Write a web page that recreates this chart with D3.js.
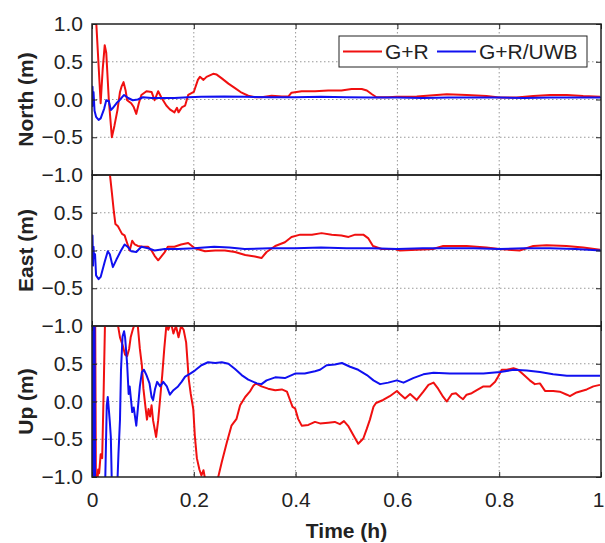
<!DOCTYPE html>
<html>
<head>
<meta charset="utf-8">
<script src="https://cdn.jsdelivr.net/npm/d3@7"></script>
<style>
  body { margin: 0; background: #fff; }
  text { font-family: "Liberation Sans", Arial, sans-serif; fill: #222; }
</style>
</head>
<body>
<div id="chart"></div>
<script>
// panel names, axis ticks and legend
let panelNames = ["North (m)", "East (m)", "Up (m)"];
let seriesNames = ["G+R", "G+R/UWB"];
let xTicks = [0, 0.2, 0.4, 0.6, 0.8, 1];
let yTicks = [-1, -0.5, 0, 0.5, 1];

// [time (h), error (m)]
let northGR = [[0.006,1.4],[0.0085,1.0],[0.017,-0.05],[0.021,0.4],[0.025,0.72],[0.028,0.62],[0.033,0.0],[0.039,-0.5],[0.044,-0.35],[0.05,-0.14],[0.055,0.1],[0.058,0.17],[0.062,0.23],[0.066,0.12],[0.069,-0.01],[0.077,-0.05],[0.082,-0.1],[0.087,-0.19],[0.092,-0.05],[0.097,0.06],[0.107,0.11],[0.117,0.1],[0.123,-0.01],[0.13,0.11],[0.136,0.03],[0.146,-0.08],[0.153,-0.13],[0.162,-0.17],[0.167,-0.11],[0.17,-0.17],[0.177,-0.1],[0.183,-0.08],[0.189,0.06],[0.2,0.1],[0.208,0.26],[0.212,0.3],[0.219,0.26],[0.225,0.3],[0.238,0.34],[0.245,0.33],[0.255,0.28],[0.268,0.21],[0.281,0.15],[0.294,0.09],[0.307,0.05],[0.32,0.03],[0.333,0.03],[0.353,0.05],[0.373,0.04],[0.386,0.04],[0.392,0.09],[0.412,0.11],[0.438,0.11],[0.464,0.12],[0.49,0.12],[0.51,0.14],[0.53,0.14],[0.54,0.12],[0.55,0.07],[0.559,0.03],[0.582,0.03],[0.599,0.035],[0.638,0.04],[0.697,0.07],[0.736,0.06],[0.775,0.045],[0.8,0.025],[0.834,0.025],[0.867,0.045],[0.9,0.06],[0.933,0.06],[0.965,0.045],[0.998,0.035]];
let northUWB = [[0,-0.1],[0.001,0.17],[0.002,-0.08],[0.003,0.1],[0.005,-0.15],[0.008,-0.23],[0.013,-0.27],[0.017,-0.25],[0.024,-0.12],[0.028,-0.01],[0.033,-0.02],[0.037,-0.14],[0.04,-0.12],[0.048,-0.05],[0.054,-0.01],[0.063,0.06],[0.071,0.02],[0.08,-0.01],[0.09,0.0],[0.1,0.03],[0.117,0.02],[0.136,0.02],[0.162,0.02],[0.189,0.03],[0.215,0.035],[0.26,0.04],[0.3,0.035],[0.35,0.03],[0.4,0.03],[0.45,0.035],[0.5,0.03],[0.55,0.025],[0.6,0.025],[0.65,0.02],[0.7,0.025],[0.75,0.025],[0.8,0.025],[0.85,0.02],[0.9,0.025],[0.95,0.025],[1.0,0.025]];
let eastGR = [[0.033,1.3],[0.035,1.02],[0.039,0.77],[0.043,0.51],[0.046,0.35],[0.051,0.32],[0.055,0.27],[0.059,0.22],[0.064,0.2],[0.069,0.1],[0.074,0.0],[0.079,0.13],[0.084,0.08],[0.09,0.06],[0.1,0.05],[0.11,0.05],[0.117,0.0],[0.123,-0.07],[0.13,-0.13],[0.136,-0.08],[0.143,-0.02],[0.149,0.05],[0.162,0.05],[0.175,0.08],[0.189,0.1],[0.202,0.03],[0.222,-0.01],[0.242,0.0],[0.261,0.0],[0.281,-0.02],[0.301,-0.06],[0.32,-0.08],[0.333,-0.1],[0.343,-0.02],[0.36,0.06],[0.379,0.11],[0.392,0.18],[0.409,0.21],[0.432,0.21],[0.451,0.23],[0.471,0.21],[0.49,0.2],[0.504,0.18],[0.517,0.21],[0.533,0.21],[0.543,0.16],[0.552,0.06],[0.569,0.02],[0.595,0.02],[0.605,0.0],[0.638,0.01],[0.67,0.02],[0.69,0.06],[0.736,0.06],[0.775,0.04],[0.8,0.02],[0.84,0.0],[0.867,0.06],[0.893,0.07],[0.932,0.06],[0.965,0.04],[0.998,0.01]];
let eastUWB = [[0,-0.15],[0.001,0.2],[0.002,-0.2],[0.003,0.05],[0.004,-0.1],[0.006,-0.05],[0.008,-0.33],[0.013,-0.38],[0.017,-0.35],[0.025,-0.15],[0.031,-0.01],[0.035,-0.05],[0.041,-0.22],[0.048,-0.12],[0.057,0.0],[0.064,0.08],[0.07,0.05],[0.077,-0.01],[0.087,-0.02],[0.097,0.05],[0.11,0.03],[0.123,0.0],[0.143,0.02],[0.169,0.02],[0.2,0.03],[0.24,0.05],[0.27,0.04],[0.3,0.02],[0.35,0.03],[0.4,0.03],[0.45,0.04],[0.5,0.03],[0.55,0.03],[0.6,0.02],[0.65,0.03],[0.7,0.03],[0.75,0.03],[0.8,0.02],[0.85,0.03],[0.9,0.03],[0.95,0.02],[1.0,0.0]];
let upGR = [[0.006,1.5],[0.007,0.0],[0.008,-1.5],[0.012,-0.9],[0.014,-0.95],[0.017,-0.7],[0.02,-0.75],[0.023,0.17],[0.026,1.2],[0.05,1.05],[0.055,0.85],[0.06,0.75],[0.065,0.62],[0.069,0.6],[0.073,0.7],[0.076,0.85],[0.08,0.95],[0.085,1.05],[0.09,1.0],[0.094,0.7],[0.098,0.48],[0.101,0.17],[0.105,-0.07],[0.108,-0.24],[0.111,-0.1],[0.114,-0.2],[0.117,-0.05],[0.12,-0.25],[0.126,-0.47],[0.13,-0.25],[0.134,0.05],[0.138,0.35],[0.142,0.7],[0.146,1.0],[0.15,0.95],[0.155,1.05],[0.16,0.9],[0.165,1.0],[0.17,0.85],[0.175,1.0],[0.18,0.95],[0.185,0.78],[0.19,0.3],[0.194,0.1],[0.199,-0.1],[0.202,-0.45],[0.206,-0.75],[0.211,-0.9],[0.215,-0.98],[0.219,-0.91],[0.222,-1.02],[0.235,-1.2],[0.248,-1.0],[0.255,-0.8],[0.265,-0.54],[0.274,-0.32],[0.284,-0.23],[0.291,-0.05],[0.301,0.06],[0.31,0.13],[0.317,0.21],[0.322,0.24],[0.333,0.2],[0.346,0.17],[0.36,0.15],[0.373,0.16],[0.383,0.13],[0.389,0.02],[0.394,-0.07],[0.399,-0.09],[0.405,-0.23],[0.412,-0.32],[0.425,-0.31],[0.438,-0.27],[0.448,-0.29],[0.464,-0.28],[0.477,-0.27],[0.487,-0.3],[0.495,-0.26],[0.504,-0.33],[0.513,-0.44],[0.523,-0.56],[0.533,-0.49],[0.54,-0.36],[0.546,-0.24],[0.553,-0.07],[0.558,-0.02],[0.572,0.02],[0.585,0.07],[0.599,0.14],[0.605,0.1],[0.615,0.04],[0.625,0.1],[0.638,0.02],[0.651,0.13],[0.661,0.22],[0.671,0.25],[0.68,0.17],[0.69,0.06],[0.697,0.0],[0.707,0.1],[0.715,0.11],[0.723,0.06],[0.729,0.03],[0.736,0.09],[0.746,0.11],[0.756,0.15],[0.769,0.2],[0.782,0.2],[0.792,0.26],[0.798,0.33],[0.805,0.42],[0.815,0.42],[0.828,0.44],[0.837,0.42],[0.847,0.36],[0.86,0.28],[0.87,0.23],[0.88,0.24],[0.89,0.14],[0.906,0.14],[0.919,0.13],[0.933,0.09],[0.939,0.07],[0.952,0.12],[0.972,0.16],[0.985,0.2],[0.998,0.22]];
let upUWB = [[0,-1.3],[0.0005,1.3],[0.001,-1.3],[0.0015,1.3],[0.002,-1.3],[0.003,1.3],[0.004,-1.3],[0.005,1.3],[0.006,-1.2],[0.015,-1.3],[0.026,-1.05],[0.029,-0.05],[0.031,0.06],[0.033,-0.1],[0.035,-0.27],[0.037,-0.47],[0.039,-1.1],[0.045,-1.3],[0.05,-1.05],[0.052,-0.69],[0.055,-0.24],[0.057,0.42],[0.06,0.86],[0.063,0.93],[0.065,0.85],[0.069,0.5],[0.072,0.1],[0.074,0.2],[0.077,0.0],[0.079,-0.14],[0.082,-0.08],[0.087,-0.32],[0.09,-0.1],[0.094,0.2],[0.098,0.39],[0.102,0.42],[0.107,0.35],[0.113,0.24],[0.117,0.06],[0.12,0.02],[0.124,0.17],[0.128,0.26],[0.134,0.2],[0.14,0.26],[0.147,0.2],[0.153,0.09],[0.16,0.15],[0.169,0.2],[0.176,0.26],[0.183,0.33],[0.193,0.37],[0.202,0.41],[0.215,0.48],[0.228,0.52],[0.242,0.51],[0.255,0.52],[0.268,0.5],[0.281,0.43],[0.294,0.35],[0.307,0.29],[0.324,0.24],[0.333,0.23],[0.343,0.28],[0.36,0.32],[0.379,0.31],[0.399,0.37],[0.418,0.37],[0.438,0.4],[0.448,0.42],[0.461,0.48],[0.477,0.49],[0.491,0.51],[0.507,0.46],[0.523,0.42],[0.54,0.35],[0.553,0.28],[0.566,0.23],[0.582,0.25],[0.599,0.28],[0.612,0.25],[0.631,0.31],[0.651,0.36],[0.671,0.38],[0.703,0.37],[0.736,0.37],[0.769,0.37],[0.802,0.39],[0.828,0.42],[0.854,0.41],[0.88,0.39],[0.906,0.36],[0.933,0.34],[0.965,0.34],[0.998,0.34]];

let panelData = [[northGR, northUWB], [eastGR, eastUWB], [upGR, upUWB]];
let colors = ["#f01010", "#1010f0"];

let svgWidth = 605;
let svgHeight = 543;
let left = 92, right = 601;
let panelTop = 24, panelH = 151;

let svg = d3.select("#chart")
    .append("svg")
    .attr("width", svgWidth)
    .attr("height", svgHeight);

let x = d3.scaleLinear().domain([0, 1]).range([left, right]);

panelData.forEach(function(series, p) {
    let top = panelTop + p * panelH;
    let y = d3.scaleLinear().domain([-1, 1]).range([top + panelH, top]);
    let g = svg.append("g");

    // grid, dotted
    g.selectAll(".gx").data(xTicks.slice(1, -1)).enter().append("line")
        .attr("x1", d => x(d)).attr("x2", d => x(d))
        .attr("y1", top).attr("y2", top + panelH)
        .attr("stroke", "#999").attr("stroke-width", 1).attr("stroke-dasharray", "1.5,2.5");
    g.selectAll(".gy").data(yTicks.slice(1, -1)).enter().append("line")
        .attr("x1", left).attr("x2", right)
        .attr("y1", d => y(d)).attr("y2", d => y(d))
        .attr("stroke", "#999").attr("stroke-width", 1).attr("stroke-dasharray", "1.5,2.5");

    // clip the lines to the panel
    svg.append("clipPath").attr("id", "clip" + p)
        .append("rect").attr("x", left).attr("y", top)
        .attr("width", right - left).attr("height", panelH);

    let line = d3.line().x(d => x(d[0])).y(d => y(d[1]));
    series.forEach(function(s, i) {
        g.append("path")
            .datum(s)
            .attr("clip-path", "url(#clip" + p + ")")
            .attr("d", line)
            .attr("fill", "none")
            .attr("stroke", colors[i])
            .attr("stroke-width", 2)
            .attr("stroke-linejoin", "round");
    });

    // axes with inward ticks, like matlab
    let yl = d3.axisLeft(y).tickValues(p == 0 ? yTicks : yTicks.slice(0, -1))
        .tickSize(-5).tickPadding(9).tickFormat(d3.format(".1f"));
    let ya = g.append("g").attr("transform", "translate(" + left + ",0)").call(yl);
    let yr = g.append("g").attr("transform", "translate(" + right + ",0)")
        .call(d3.axisRight(y).tickValues(yTicks).tickSize(-5).tickFormat(""));
    let xt = g.append("g").attr("transform", "translate(0," + top + ")")
        .call(d3.axisTop(x).tickValues(xTicks).tickSize(-5).tickFormat(""));
    let xb = g.append("g").attr("transform", "translate(0," + (top + panelH) + ")")
        .call(d3.axisBottom(x).tickValues(xTicks).tickSize(-5).tickPadding(15)
            .tickFormat(p == 2 ? d3.format("") : ""));
    [ya, yr, xt, xb].forEach(function(a) {
        a.select(".domain").remove();
        a.selectAll("line").attr("stroke", "#222");
        a.selectAll("text").style("font-size", "21px").attr("fill", "#222")
            .style("font-family", "'Liberation Sans', Arial, sans-serif");
    });
    // last x label sits at the window edge
    xb.selectAll("text").filter(d => d == 1).attr("x", -3);

    g.append("rect").attr("x", left).attr("y", top)
        .attr("width", right - left).attr("height", panelH)
        .attr("fill", "none").attr("stroke", "#222").attr("stroke-width", 1.5);

    g.append("text")
        .attr("transform", "translate(33," + (top + panelH / 2) + ") rotate(-90)")
        .attr("text-anchor", "middle")
        .style("font-size", "21px").style("font-weight", "bold")
        .text(panelNames[p]);
});

svg.append("text")
    .attr("x", (left + right) / 2).attr("y", 538)
    .attr("text-anchor", "middle")
    .style("font-size", "21px").style("font-weight", "bold")
    .text("Time (h)");

// legend
let lg = svg.append("g");
lg.append("rect").attr("x", 339).attr("y", 36).attr("width", 248).attr("height", 31)
    .attr("fill", "#fff").attr("stroke", "#222").attr("stroke-width", 1);
let legendX = [343, 437];
seriesNames.forEach(function(n, i) {
    lg.append("line").attr("x1", legendX[i]).attr("x2", legendX[i] + 39)
        .attr("y1", 51.5).attr("y2", 51.5)
        .attr("stroke", colors[i]).attr("stroke-width", 2);
    lg.append("text").attr("x", legendX[i] + 42).attr("y", 59)
        .style("font-size", "21px").text(n);
});
</script>
</body>
</html>
